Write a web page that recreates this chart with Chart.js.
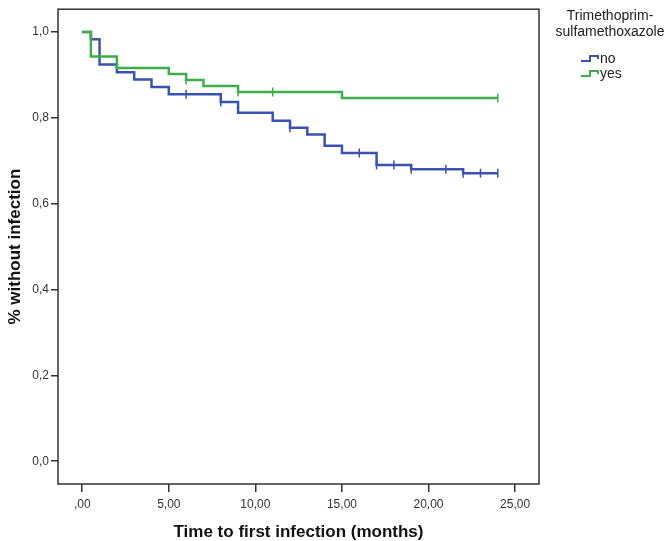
<!DOCTYPE html>
<html>
<head>
<meta charset="utf-8">
<script src="https://cdn.jsdelivr.net/npm/chart.js@4"></script>
<style>
  html, body { margin: 0; padding: 0; background: #fff; }
  canvas { display: block; }
</style>
</head>
<body>
<canvas id="kmChart" width="669" height="541"></canvas>
<script>
// Kaplan-Meier steps
const noTimes = [0, 0.5, 1, 2, 3, 4, 5, 8, 9, 11, 12, 13, 14, 15, 17, 19, 22, 24];
const noSurv = [1.0, 0.983, 0.924, 0.906, 0.889, 0.872, 0.855, 0.837, 0.812, 0.793, 0.777, 0.761, 0.735, 0.718, 0.690, 0.680, 0.671, 0.671];
const noCensored = [6, 8, 12, 16, 17, 18, 19, 21, 22, 23, 24];

const yesTimes = [0, 0.5, 2, 5, 6, 7, 9, 15, 24];
const yesSurv = [1.0, 0.943, 0.916, 0.902, 0.888, 0.874, 0.860, 0.846, 0.846];
const yesCensored = [6, 9, 11, 24];

const xTicks = [0, 5, 10, 15, 20, 25];
const yTicks = [0, 0.2, 0.4, 0.6, 0.8, 1.0];

const legendTitle = ["Trimethoprim-", "sulfamethoxazole"];
const groups = ["no", "yes"];

const blue = "#3a52b0";
const green = "#3fae4a";
const axisColor = "#333";
const font = "'Liberation Sans', Arial, sans-serif";

function steps(times, surv) {
  return times.map(function (t, i) { return { x: t, y: surv[i] }; });
}

function survAt(times, surv, t) {
  let s = surv[0];
  for (let i = 0; i < times.length; i++) {
    if (times[i] <= t) s = surv[i];
  }
  return s;
}

function censorPoints(cens, times, surv) {
  return cens.map(function (t) { return { x: t, y: survAt(times, surv, t) }; });
}

const framePlugin = {
  id: "frameAndLegend",
  afterDraw(chart) {
    const ctx = chart.ctx;
    const a = chart.chartArea;
    ctx.save();
    ctx.strokeStyle = axisColor;
    ctx.lineWidth = 1.5;
    ctx.strokeRect(a.left, a.top, a.right - a.left, a.bottom - a.top);

    // legend
    ctx.fillStyle = "#222";
    ctx.font = "14px " + font;
    ctx.textAlign = "center";
    ctx.textBaseline = "middle";
    ctx.fillText(legendTitle[0], 610, 16);
    ctx.fillText(legendTitle[1], 610, 32);

    const colors = [blue, green];
    const ys = [59, 74];
    groups.forEach(function (g, i) {
      const y = ys[i];
      ctx.strokeStyle = colors[i];
      ctx.lineWidth = 2;
      ctx.beginPath();
      ctx.moveTo(581, y + 2);
      ctx.lineTo(590, y + 2);
      ctx.lineTo(590, y - 3);
      ctx.lineTo(598, y - 3);
      ctx.lineTo(598, y);
      ctx.stroke();
      ctx.fillStyle = "#222";
      ctx.textAlign = "left";
      ctx.font = "14px " + font;
      ctx.fillText(g, 600, y);
    });
    ctx.restore();
  }
};

const ctx = document.getElementById("kmChart").getContext("2d");
new Chart(ctx, {
  type: "line",
  data: {
    datasets: [
      {
        label: "yes censored",
        type: "scatter",
        data: censorPoints(yesCensored, yesTimes, yesSurv),
        pointStyle: "line",
        rotation: 90,
        radius: 4.5,
        borderColor: green,
        borderWidth: 1.5
      },
      {
        label: "yes",
        data: steps(yesTimes, yesSurv),
        stepped: true,
        borderColor: green,
        borderWidth: 2.5,
        pointRadius: 0,
        fill: false
      },
      {
        label: "no censored",
        type: "scatter",
        data: censorPoints(noCensored, noTimes, noSurv),
        pointStyle: "line",
        rotation: 90,
        radius: 4.5,
        borderColor: blue,
        borderWidth: 1.5
      },
      {
        label: "no",
        data: steps(noTimes, noSurv),
        stepped: true,
        borderColor: blue,
        borderWidth: 2.5,
        pointRadius: 0,
        fill: false
      }
    ]
  },
  options: {
    responsive: false,
    animation: false,
    events: [],
    layout: { padding: { left: 0, top: 3, right: 130, bottom: 0 } },
    plugins: {
      legend: { display: false },
      tooltip: { enabled: false }
    },
    scales: {
      x: {
        type: "linear",
        min: -1.4,
        max: 26.38,
        afterBuildTicks: function (scale) {
          scale.ticks = xTicks.map(function (v) { return { value: v }; });
        },
        afterFit: function (scale) { scale.height = 57; },
        grid: {
          drawOnChartArea: false,
          drawTicks: true,
          tickLength: 8,
          color: axisColor,
          lineWidth: 1.5
        },
        border: { display: false },
        ticks: {
          padding: 5,
          color: "#333",
          font: { family: font, size: 12 },
          maxRotation: 0,
          callback: function (v) {
            return v === 0 ? ",00" : v.toFixed(2).replace(".", ",");
          }
        },
        title: {
          display: true,
          text: "Time to first infection (months)",
          color: "#111",
          font: { family: font, size: 17, weight: "bold", lineHeight: 1 },
          padding: { top: 0, bottom: 0.5 }
        }
      },
      y: {
        min: -0.053,
        max: 1.053,
        afterBuildTicks: function (scale) {
          scale.ticks = yTicks.map(function (v) { return { value: v }; });
        },
        afterFit: function (scale) { scale.width = 58; },
        grid: {
          drawOnChartArea: false,
          drawTicks: true,
          tickLength: 7,
          color: axisColor,
          lineWidth: 1.5
        },
        border: { display: false },
        ticks: {
          padding: 2,
          color: "#333",
          font: { family: font, size: 12 },
          callback: function (v) { return v.toFixed(1).replace(".", ","); }
        },
        title: {
          display: true,
          text: "% without infection",
          color: "#111",
          font: { family: font, size: 17, weight: "bold", lineHeight: 1 },
          padding: { top: 6.5, bottom: 0 }
        }
      }
    }
  },
  plugins: [framePlugin]
});
</script>
</body>
</html>
